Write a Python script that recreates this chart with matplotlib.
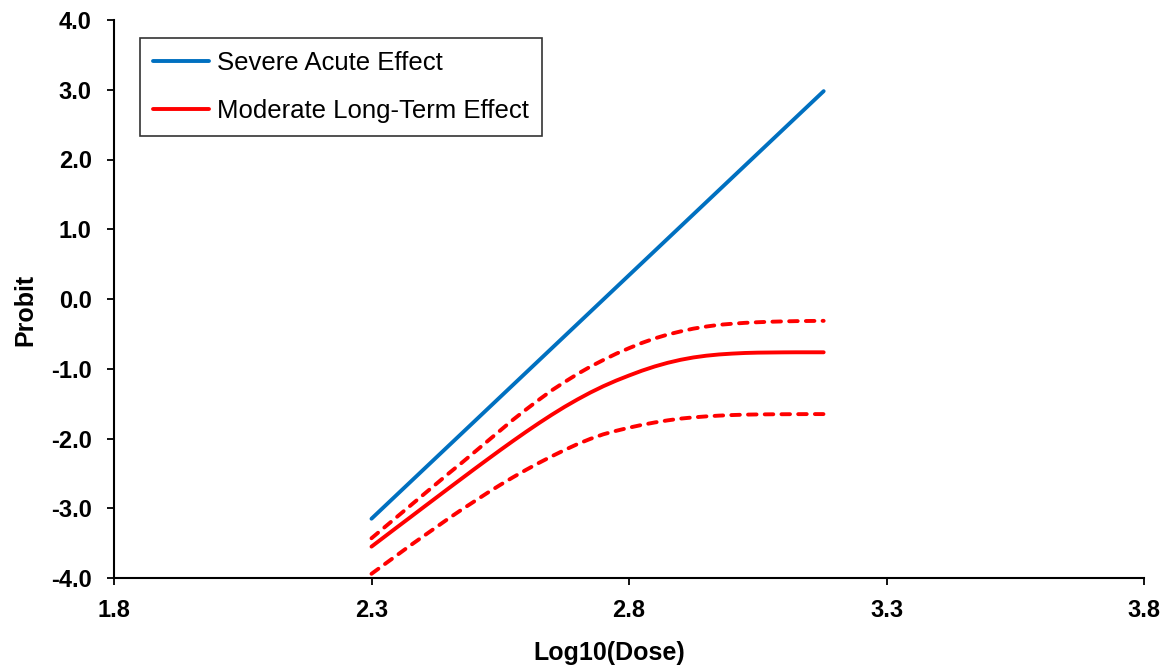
import matplotlib
matplotlib.use("Agg")
import matplotlib.pyplot as plt

plt.rcParams['font.family'] = ['Liberation Sans', 'DejaVu Sans']

# Data
severe_x = [2.30, 3.178]
severe_y = [-3.15, 2.98]

mod_x = [2.300, 2.325, 2.350, 2.375, 2.400, 2.425, 2.450, 2.475, 2.500, 2.525,
         2.550, 2.575, 2.600, 2.625, 2.650, 2.675, 2.700, 2.725, 2.750, 2.775,
         2.800, 2.825, 2.850, 2.875, 2.900, 2.925, 2.950, 2.975, 3.000, 3.025,
         3.050, 3.075, 3.100, 3.125, 3.150, 3.178]
mod_y = [-3.55, -3.41, -3.27, -3.131, -2.991, -2.852, -2.713, -2.575, -2.437, -2.301,
         -2.166, -2.034, -1.905, -1.780, -1.660, -1.546, -1.440, -1.341, -1.251, -1.170,
         -1.097, -1.028, -0.967, -0.915, -0.872, -0.838, -0.813, -0.795, -0.783, -0.774,
         -0.769, -0.767, -0.765, -0.764, -0.764, -0.764]
mod_upper = [-3.43, -3.275, -3.12, -2.965, -2.81, -2.655, -2.50, -2.35, -2.195, -2.04,
             -1.885, -1.73, -1.585, -1.445, -1.31, -1.19, -1.075, -0.97, -0.875, -0.785,
             -0.705, -0.63, -0.565, -0.51, -0.465, -0.425, -0.395, -0.37, -0.355, -0.342,
             -0.333, -0.326, -0.321, -0.317, -0.315, -0.313]
mod_lower = [-3.94, -3.805, -3.67, -3.535, -3.405, -3.275, -3.145, -3.02, -2.90, -2.78,
             -2.665, -2.555, -2.45, -2.35, -2.255, -2.165, -2.08, -2.005, -1.94, -1.89,
             -1.845, -1.805, -1.77, -1.74, -1.715, -1.697, -1.683, -1.672, -1.664, -1.658,
             -1.655, -1.653, -1.652, -1.651, -1.650, -1.650]

xticks = [1.8, 2.3, 2.8, 3.3, 3.8]
yticks = [-4, -3, -2, -1, 0, 1, 2, 3, 4]

blue = '#0070C0'
red = '#FF0000'

fig = plt.figure(figsize=(11.66, 6.65), dpi=100)
ax = fig.add_axes([114/1166, 1-578/665, (1144-114)/1166, (578-20)/665])

lw = 2.8
ax.plot(severe_x, severe_y, color=blue, lw=lw, solid_capstyle='round', label='Severe Acute Effect')
ax.plot(mod_x, mod_y, color=red, lw=lw, solid_capstyle='round', solid_joinstyle='round',
        label='Moderate Long-Term Effect')
for ys in (mod_upper, mod_lower):
    ax.plot(mod_x, ys, color=red, lw=lw, dashes=(2.2, 2.1), dash_capstyle='round')

ax.set_xlim(1.8, 3.8)
ax.set_ylim(-4, 4)
ax.set_xticks(xticks)
ax.set_xticklabels([f'{v:.1f}' for v in xticks])
ax.set_yticks(yticks)
ax.set_yticklabels([f'{v:.1f}' for v in yticks])

for s in ('top', 'right'):
    ax.spines[s].set_visible(False)
for s in ('left', 'bottom'):
    ax.spines[s].set_linewidth(1.5)
    ax.spines[s].set_color('black')

ax.tick_params(axis='both', direction='out', length=5, width=1.3, labelsize=17)
ax.tick_params(axis='x', pad=10)
ax.tick_params(axis='y', pad=11)
for lbl in ax.get_xticklabels() + ax.get_yticklabels():
    lbl.set_fontweight('bold')

ax.set_xlabel('Log10(Dose)', fontsize=18, fontweight='bold', labelpad=14, x=0.4806)
ax.set_ylabel('Probit', fontsize=18, fontweight='bold', labelpad=10, y=0.48)

leg = ax.legend(loc='upper left', bbox_to_anchor=(0.0252, 0.9677), fontsize=18.5,
                frameon=True, fancybox=False, edgecolor='black', handlelength=2.2,
                handletextpad=0.3, labelspacing=0.95, borderpad=0.5, borderaxespad=0)
leg.get_frame().set_linewidth(1.2)

fig.savefig('out.png', dpi=100)
